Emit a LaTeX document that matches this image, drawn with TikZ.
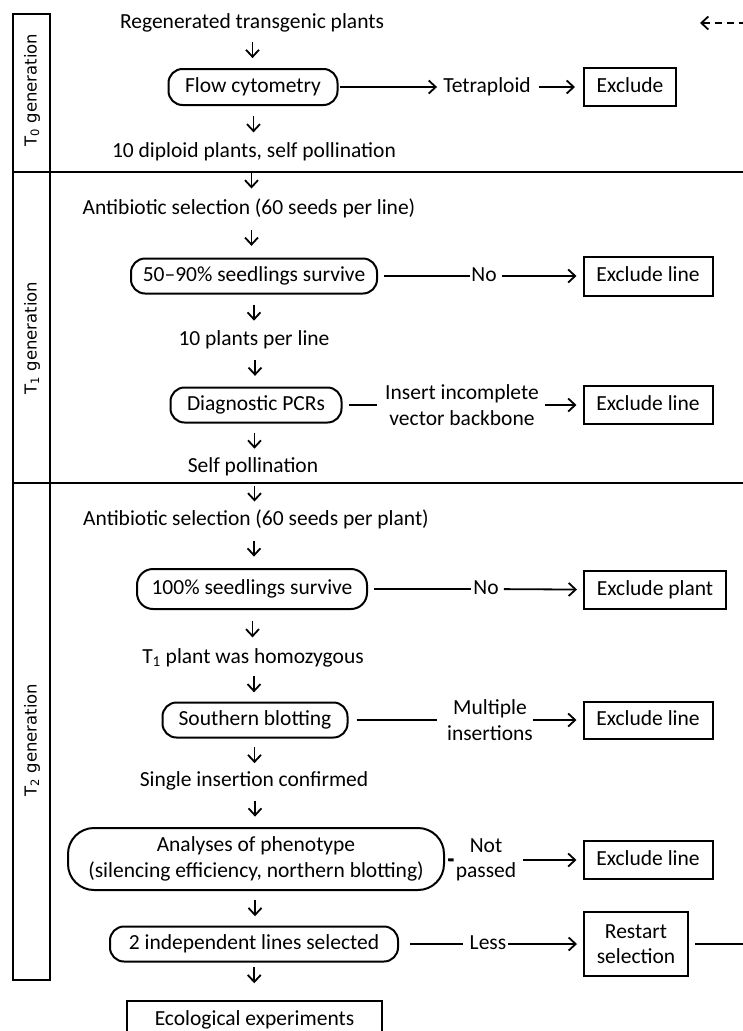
\documentclass[tikz,border=0pt]{standalone}
\usepackage{fontspec}
\setmainfont{Carlito}
\newfontfamily\sidefont{DejaVu Sans}
\usetikzlibrary{arrows.meta,calc}
\tikzset{
  txt/.style={inner sep=0pt, text height=14pt, text depth=4pt},
  mtxt/.style={inner sep=0pt, align=center},
  rbox/.style={txt, draw, line width=2pt, rounded corners=14pt},
  sbox/.style={txt, draw, line width=2pt},
  mbox/.style={mtxt, draw, line width=2pt},
  arr/.style={line width=1.8pt, -{Straight Barb[length=7pt,width=13pt]}},
  ln/.style={line width=1.8pt},
  side/.style={rotate=90, font=\sidefont\fontsize{16.5pt}{19pt}\selectfont, inner sep=0pt},
  frame/.style={line width=2.5pt},
}
\newcommand\varr[3][0]{\draw[arr] ($(#2.south)!.5!(#3.north)+(0,#1-8)$) -- ($(#2.south)!.5!(#3.north)+(0,#1+8)$);}
\begin{document}
\begin{tikzpicture}[x=1pt,y=-1pt,font=\fontsize{21.5pt}{25.5pt}\selectfont]
\useasboundingbox (0,0) rectangle (743,1031);
\clip (0,0) rectangle (743,1031);
% generation column
\draw[frame] (13,14) rectangle (50,980);
\draw[frame] (13,172) -- (760,172);
\draw[frame] (13,483) -- (760,483);
\node[side] (g0) at (32,90) {T\textsubscript{0} generation};
\node[side] (g1) at (32,338) {T\textsubscript{1} generation};
\node[side] (g2) at (32,740) {T\textsubscript{2} generation};
% T0
\node[txt] (regen) at (252,23) {Regenerated transgenic plants};
\node[rbox, minimum width=169pt, minimum height=36pt] (flow) at (253,87) {Flow cytometry};
\node[txt] (tetra) at (487,87) {Tetraploid};
\node[sbox, minimum width=92pt, minimum height=38pt] (ex0) at (630,87) {Exclude};
\node[txt] (dip) at (254,152) {10 diploid plants, self pollination};
% T1
\node[txt] (anti1) at (249,209) {Antibiotic selection (60 seeds per line)};
\node[rbox, minimum width=246pt, minimum height=35pt] (surv1) at (254,276) {50–90\% seedlings survive};
\node[txt] (no1) at (484,276) {No};
\node[sbox, minimum width=129pt, minimum height=39pt] (ex1) at (648,276) {Exclude line};
\node[txt] (ppl) at (254,340) {10 plants per line};
\node[rbox, minimum width=171pt, minimum height=35pt] (pcr) at (256,405) {Diagnostic PCRs};
\node[mtxt] (ins) at (462,405) {Insert incomplete\\vector backbone};
\node[sbox, minimum width=129pt, minimum height=38pt] (ex2) at (648,405) {Exclude line};
\node[txt] (selfp) at (253,467) {Self pollination};
% T2
\node[txt] (anti2) at (256,520) {Antibiotic selection (60 seeds per plant)};
\node[rbox, minimum width=230pt, minimum height=40pt, rounded corners=16pt] (surv2) at (252,589) {100\% seedlings survive};
\node[txt] (no2) at (486,589) {No};
\node[sbox, minimum width=142pt, minimum height=38pt] (exp) at (655,590) {Exclude plant};
\node[txt] (t1) at (253,658) {T\textsubscript{1} plant was homozygous};
\node[rbox, minimum width=185pt, minimum height=35pt] (south) at (255,720) {Southern blotting};
\node[mtxt] (mult) at (490,720) {Multiple\\insertions};
\node[sbox, minimum width=129pt, minimum height=37pt] (ex3) at (648,720) {Exclude line};
\node[txt] (single) at (254,781) {Single insertion confirmed};
\node[mbox, rounded corners=26pt, minimum width=376pt, minimum height=62pt] (pheno) at (256,859) {Analyses of phenotype\\(silencing efficiency, northern blotting)};
\node[mtxt] (notp) at (486,860) {Not\\passed};
\node[sbox, minimum width=129pt, minimum height=38pt] (ex4) at (648,860) {Exclude line};
\node[rbox, minimum width=288pt, minimum height=35pt] (two) at (254,944) {2 independent lines selected};
\node[txt] (less) at (488,944) {Less};
\node[mbox, minimum width=104pt, minimum height=64pt] (restart) at (636,944) {Restart\\selection};
\node[sbox, minimum width=255pt, minimum height=38pt] (eco) at (254.5,1020) {Ecological experiments};
% return path (leaves the picture on the right)
\coordinate (ret1) at (770,944);
\coordinate (ret2) at (770,23);
\coordinate (ret3) at (700,23);
% vertical arrows
\varr{regen}{flow}
\varr{flow}{dip}
\varr{dip}{anti1}
\varr{anti1}{surv1}
\varr{surv1}{ppl}
\varr{ppl}{pcr}
\varr{pcr}{selfp}
\varr{selfp}{anti2}
\varr{anti2}{surv2}
\varr{surv2}{t1}
\varr{t1}{south}
\varr{south}{single}
\varr{single}{pheno}
\varr{pheno}{two}
\varr[-6]{two}{eco}
% horizontal connectors
\draw[arr, shorten <=1pt, shorten >=6pt] (flow) -- (tetra);
\draw[arr, shorten <=8pt, shorten >=8pt] (tetra) -- (ex0);
\draw[ln, shorten <=6pt, shorten >=1pt] (surv1) -- (no1);
\draw[arr, shorten <=5pt, shorten >=6pt] (no1) -- (ex1);
\draw[ln, shorten <=6pt, shorten >=8pt] (pcr) -- (ins);
\draw[arr, shorten <=6pt, shorten >=6pt] (ins) -- (ex2);
\draw[ln, shorten <=6pt, shorten >=2pt] (surv2) -- (no2);
\draw[arr, shorten <=5pt, shorten >=6pt] (no2) -- (exp);
\draw[ln, shorten <=8pt, shorten >=10pt] (south) -- (mult);
\draw[arr, shorten <=0pt, shorten >=6pt] (mult) -- (ex3);
\draw[line width=2.8pt, shorten <=3pt, shorten >=2pt] (pheno) -- (notp);
\draw[arr, shorten <=7pt, shorten >=6pt] (notp) -- (ex4);
\draw[ln, shorten <=11pt, shorten >=7pt] (two) -- (less);
\draw[arr, shorten <=2pt, shorten >=6pt] (less) -- (restart);
\draw[ln, shorten <=6pt] (restart) -- (ret1) -- (ret2);
\draw[arr, dash pattern=on 7pt off 5pt] (ret2) -- (ret3);
\end{tikzpicture}
\end{document}
